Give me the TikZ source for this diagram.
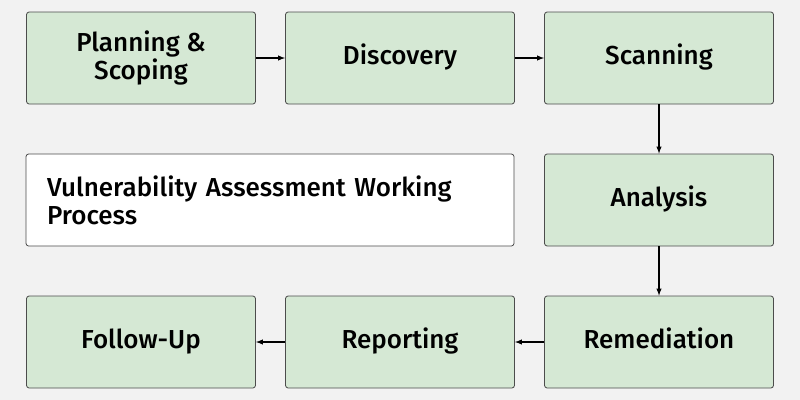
\documentclass[tikz,border=0pt]{standalone}
\usepackage{fontspec}
\setmainfont{Fira Sans}[BoldFont={Fira Sans Medium}]
\begin{document}
\begin{tikzpicture}[x=0.75pt,y=-0.75pt,
 box/.style={draw=black!70,fill={rgb,255:red,213;green,232;blue,212},rounded corners=2pt,minimum width=229*0.75pt,minimum height=92*0.75pt,align=center,font=\fontsize{19.5}{21}\selectfont\bfseries,line width=0.6pt},
 one/.style={text height=14pt,text depth=4pt},
 arr/.style={-latex,line width=0.8pt}]
\fill[gray!10] (0,0) rectangle (800,400);
\useasboundingbox (0,0) rectangle (800,400);
\node[box] (a) at (141,58) {Planning \&\\Scoping};
\node[box,one] (b) at (400,58) {Discovery};
\node[box,one] (c) at (659,58) {Scanning};
\node[box,one] (d) at (659,200) {Analysis};
\node[box,one] (e) at (659,342) {Remediation};
\node[box,one] (f) at (400,342) {Reporting};
\node[box,one] (g) at (141,342) {Follow-Up};
\node[draw=black!70,fill=white,rounded corners=2pt,minimum width=488*0.75pt,minimum height=92*0.75pt,text width=446*0.75pt,align=left,font=\fontsize{19.5}{21}\selectfont\bfseries,line width=0.6pt] (t) at (270,200) {Vulnerability Assessment Working\\Process};
\draw[arr] (a) -- (b);
\draw[arr] (b) -- (c);
\draw[arr] (c) -- (d);
\draw[arr] (d) -- (e);
\draw[arr] (e) -- (f);
\draw[arr] (f) -- (g);
\end{tikzpicture}
\end{document}
